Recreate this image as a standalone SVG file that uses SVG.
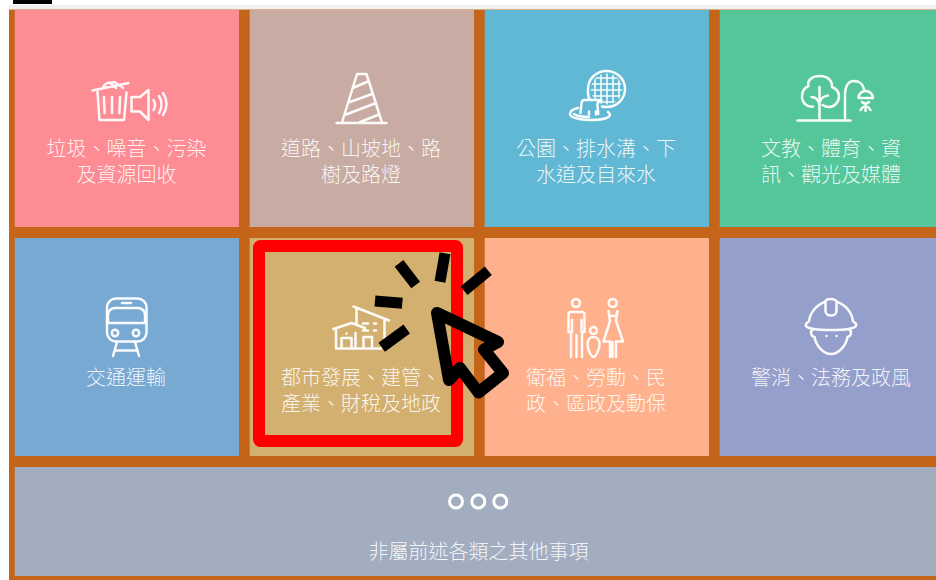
<svg xmlns="http://www.w3.org/2000/svg" width="936" height="580" viewBox="0 0 936 580">
<style>
.t{font-family:"Noto Sans CJK TC","Noto Sans CJK SC",sans-serif;font-size:20px;font-weight:300;fill:#fff;fill-opacity:.9;text-anchor:middle}
.i{fill:none;stroke:#fff;stroke-width:2.500;stroke-linecap:round;stroke-linejoin:round;stroke-opacity:.95}
.f{stroke-width:1.600}
.k{stroke:#000;stroke-width:11;fill:none}
</style>
<defs><clipPath id="grate"><circle cx="606.500" cy="89" r="15.500"/></clipPath></defs>
<rect width="936" height="580" fill="#fff"/>
<rect x="13" y="0" width="39" height="4" fill="#000"/>
<rect x="9" y="5" width="927" height="4.500" fill="#eef0f2"/>
<rect x="9" y="9.500" width="927" height="570.500" fill="#c5651a"/>

<g id="n1"><rect x="14.700" y="10" width="224.300" height="217" fill="#fe8c94"/>
<g class="i"><path d="M97.500 92l2 28h24.500l2.500-27.500M92.500 90.500l36-7.500M104 97l.6 16M112 97v16M120 97l-.6 16M103 88c1-4 5-6 8-5l3-1c3 2 6 3 9 6M110 83l6 5M131.500 97h8.500l8.500-7v30l-8.500-8.500h-8.500zM153.500 100q3 5 0 10M159 96q5 8.500 0 17M163 93q7 11 0 22"/></g>
<text class="t" x="126.500" y="155.500">垃圾、噪音、污染</text><text class="t" x="126.500" y="181.500">及資源回收</text></g>

<g id="n2"><rect x="249.700" y="10" width="224.300" height="217" fill="#c8aba2"/>
<g class="i"><path d="M336.500 123h50M342 122.500l15-48.500h9.500l15.500 48.500M354 87.500l14-6M350 102l22-8M346 114.500l30-11.500M359 122.500l20-8"/></g>
<text class="t" x="361" y="155.500">道路、山坡地、路</text><text class="t" x="361" y="181.500">樹及路燈</text></g>

<g id="n3"><rect x="484.700" y="10" width="224.300" height="217" fill="#60b8d4"/>
<g class="i"><path d="M589.500 99c-2-3-1.500-6-1.500-10 0-10 8-18 18.500-18s18.500 8 18.500 18-8 18-18.500 18c-1.500 0-3 0-4.500-.5"/>
<g clip-path="url(#grate)"><path class="f" d="M588 78h37M588 84h37M588 90h37M588 96h37M588 102h37M595 70v36M601 70v36M607 70v36M613 70v36M619 70v36"/></g>
<path d="M580.500 113l1-10c.3-2 1.500-3 3-3h17c-3 1-4.500 3-4 6l.8 8M589 111.500v3M596 111.500v3"/><path d="M578 108c-5 1-8 3-8 6 0 3 8 6 20 6s19-2 20-5c.5-1-1-2-2-3"/><path d="M574 114c3 2 9 3 15 3"/></g>
<text class="t" x="596" y="155.500">公園、排水溝、下</text><text class="t" x="596" y="181.500">水道及自來水</text></g>

<g id="n4"><rect x="719.700" y="10" width="224.300" height="217" fill="#54c69a"/>
<g class="i"><path d="M797.500 120.500h53M819.500 120V87M819.500 105c-1-5-4-8-8-8M819.500 105c0-6 4-9 8.500-9.500M813 106.500c-5 1-11-3-11-10 0-5 3-9 6.500-10.500C807 80 812 76 820 76c8 0 12.500 5 12 11 4 1.500 7 5 7 9.500 0 6-5 10.500-10 10.500-3 0-5-1-6.500-2M845 120V94c0-7 3-13 9-13 5 0 9 3 10 8M858.500 98c0-4 3-7 7-7s7.500 3 7.500 7zM862 102q3.500 3 7 0M865.500 105v6M860.500 110l2.500-3M870.500 110l-2.500-3"/></g>
<text class="t" x="831" y="155.500">文教、體育、資</text><text class="t" x="831" y="181.500">訊、觀光及媒體</text></g>

<g id="n5"><rect x="14.700" y="238" width="224.300" height="218" fill="#78a9d3"/>
<g class="i"><rect x="107" y="298.500" width="39.500" height="43" rx="9"/><path d="M108 315c0-4 3-7 7-7h23c4 0 7 3 7 7v8h-37zM122 303h9M117 342l-4 14M135 342l4 14M115 350.500h22"/><circle cx="115" cy="333" r="3.200"/><circle cx="136" cy="333" r="3.200"/></g>
<text class="t" x="126" y="384.500">交通運輸</text></g>

<g id="n6"><rect x="249.700" y="238" width="224.300" height="218" fill="#d3b06f"/>
<g class="i"><path d="M353.500 306.500l35.500 14M333.500 329l18-6 13.500 5M356.500 308.500v16.500M384.500 320v28M336 330v18.500h45M341.500 348v-10h10v10M346.500 333.500v.1M355.500 333v15M363.500 348v-11h8.500v11M363 323.500h5M374 323.500h2M363 330.500h5M374 330.500h2"/></g>
<text class="t" x="361" y="384.500">都市發展、建管、</text><text class="t" x="361" y="410.500">產業、財稅及地政</text></g>

<g id="n7"><rect x="484.700" y="238" width="224.300" height="218" fill="#feb18c"/>
<g class="i"><circle cx="576" cy="303" r="4"/><circle cx="612.700" cy="303" r="4"/><circle cx="593.500" cy="330.500" r="3.500"/><path d="M571 357v-25h-2.500v-18c0-1 1-2 2-2h12c1 0 2 1 2 2v18h-2.500v25M576.500 335v22M572 320v12M581.500 320v12M593.500 337c-3.500 0-6 3-6 7 0 6 4 13 6 13s6-7 6-13c0-4-2.500-7-6-7zM608.500 311l1 5h6.500l1.500-5M608.500 311l1.500 10-6.500 20.500h6.500v15.500M617.500 311l-1.500 10 7 20.500h-7v15.500M612.500 342v15"/></g>
<text class="t" x="596" y="384.500">衛福、勞動、民</text><text class="t" x="596" y="410.500">政、區政及動保</text></g>

<g id="n8"><rect x="719.700" y="238" width="224.300" height="218" fill="#949fcc"/>
<g class="i"><path d="M806 326c-1-2 1-3.500 3-4.500 1-9 8-17 16-19.500 1-4 10-4 12 0 8 2.500 15 10 16 19.500 2 1 4 2.500 3 4.500-2 3-10 4-25 4s-23-1-25-4zM825.500 302v9c0 6 11 6 11 0v-9M812.500 330c-2.500 1-2 6 2 7 1.500 9 9 17 16.500 17s15-8 16.500-17c4-1 4.500-6 2-7M826.500 336h.1M836.500 336h.1"/></g>
<text class="t" x="831" y="384.500">警消、法務及政風</text></g>

<g id="n9"><rect x="14.700" y="467" width="929.300" height="109" fill="#a2adbf"/>
<g fill="none" stroke="#fff" stroke-width="3"><circle cx="456" cy="501.500" r="6.500"/><circle cx="478.300" cy="501.500" r="6.500"/><circle cx="500.300" cy="501.500" r="6.500"/></g>
<text class="t" x="478.500" y="558.500">非屬前述各類之其他事項</text></g>

<g id="highlight"><rect x="259" y="246" width="198" height="195" rx="1.500" fill="none" stroke="#f00" stroke-width="12" stroke-linejoin="round"/></g>
<g id="cursor">
<path class="k" stroke-linejoin="round" style="stroke-width:12" d="M437 313L498 342L484 349.500L503 373L478.500 392.500L460 368L449 380Z"/>
<path class="k" d="M399 263.300L415.700 285M445 253.300L440 281.700M488.300 270.700L464 290.700M375 301L402.300 303.300M406.700 329L381.700 347.300"/>
</g>
</svg>
